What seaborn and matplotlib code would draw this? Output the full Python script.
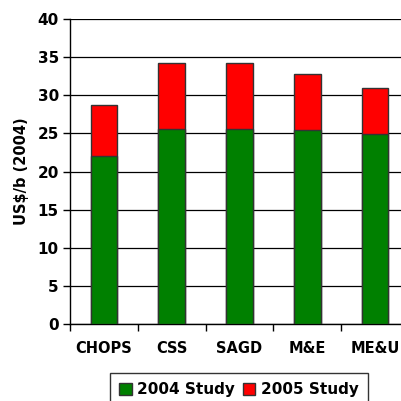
import matplotlib
matplotlib.use("Agg")
import matplotlib.pyplot as plt
import seaborn as sns
import pandas as pd
from matplotlib.patches import Patch
from matplotlib.ticker import FixedLocator

categories = ["CHOPS", "CSS", "SAGD", "M&E", "ME&U"]
study_2004 = [22.0, 25.6, 25.6, 25.4, 24.9]
study_2005_total = [28.7, 34.2, 34.2, 32.8, 30.9]
yticks = [0, 5, 10, 15, 20, 25, 30, 35, 40]

sns.set_theme(style="white")
plt.rcParams['font.family'] = ['DejaVu Sans']
plt.rcParams['font.weight'] = 'bold'
plt.rcParams['text.color'] = 'black'
plt.rcParams['axes.labelcolor'] = 'black'
plt.rcParams['xtick.color'] = 'black'
plt.rcParams['ytick.color'] = 'black'

df = pd.DataFrame({"cat": categories, "v2004": study_2004, "v2005": study_2005_total})

fig = plt.figure(figsize=(4.02, 4.01), dpi=100)
ax = fig.add_axes([70/402, 1-324/401, 339/402, 305/401])

sns.barplot(data=df, x="cat", y="v2005", color="#FF0000", saturation=1, width=0.39,
            edgecolor="#333333", linewidth=1.0, ax=ax, zorder=3)
sns.barplot(data=df, x="cat", y="v2004", color="#008000", saturation=1, width=0.39,
            edgecolor="#333333", linewidth=1.0, ax=ax, zorder=3)

ax.set_ylim(0, 40)
ax.set_xlim(-0.5, 4.5)
ax.set_yticks(yticks)
ax.yaxis.grid(True, color="black", linewidth=0.9, zorder=0)
ax.set_axisbelow(True)
for s in ["top", "right"]:
    ax.spines[s].set_visible(False)
for s in ["left", "bottom"]:
    ax.spines[s].set_color("black")
    ax.spines[s].set_linewidth(1.0)
ax.tick_params(axis="y", which="major", length=5, width=1, color="black", direction="out",
               labelsize=11, pad=3, left=True, labelcolor="black")
ax.tick_params(axis="x", which="major", length=0, labelsize=10.5, pad=12, labelcolor="black")
ax.xaxis.set_minor_locator(FixedLocator([-0.5, 0.5, 1.5, 2.5, 3.5]))
ax.tick_params(axis="x", which="minor", length=5, width=1, color="black", direction="out", bottom=True)
for lab in ax.get_xticklabels() + ax.get_yticklabels():
    lab.set_fontweight("bold")
ax.set_xlabel("")
ax.set_ylabel("US$/b (2004)", fontsize=10.5, fontweight="bold", labelpad=6, color="black")

handles = [Patch(facecolor="#008000", edgecolor="#333333", label="2004 Study"),
           Patch(facecolor="#FF0000", edgecolor="#333333", label="2005 Study")]
leg = fig.legend(handles=handles, loc="upper center", bbox_to_anchor=(239/402, 1-373/401),
                 ncol=2, frameon=True, fancybox=False, edgecolor="black",
                 prop={"weight": "bold", "size": 11}, handlelength=0.8, handleheight=0.8,
                 handletextpad=0.35, columnspacing=0.55, borderpad=0.6, borderaxespad=0)
leg.get_frame().set_linewidth(1.0)

fig.savefig("out.png", dpi=100)
